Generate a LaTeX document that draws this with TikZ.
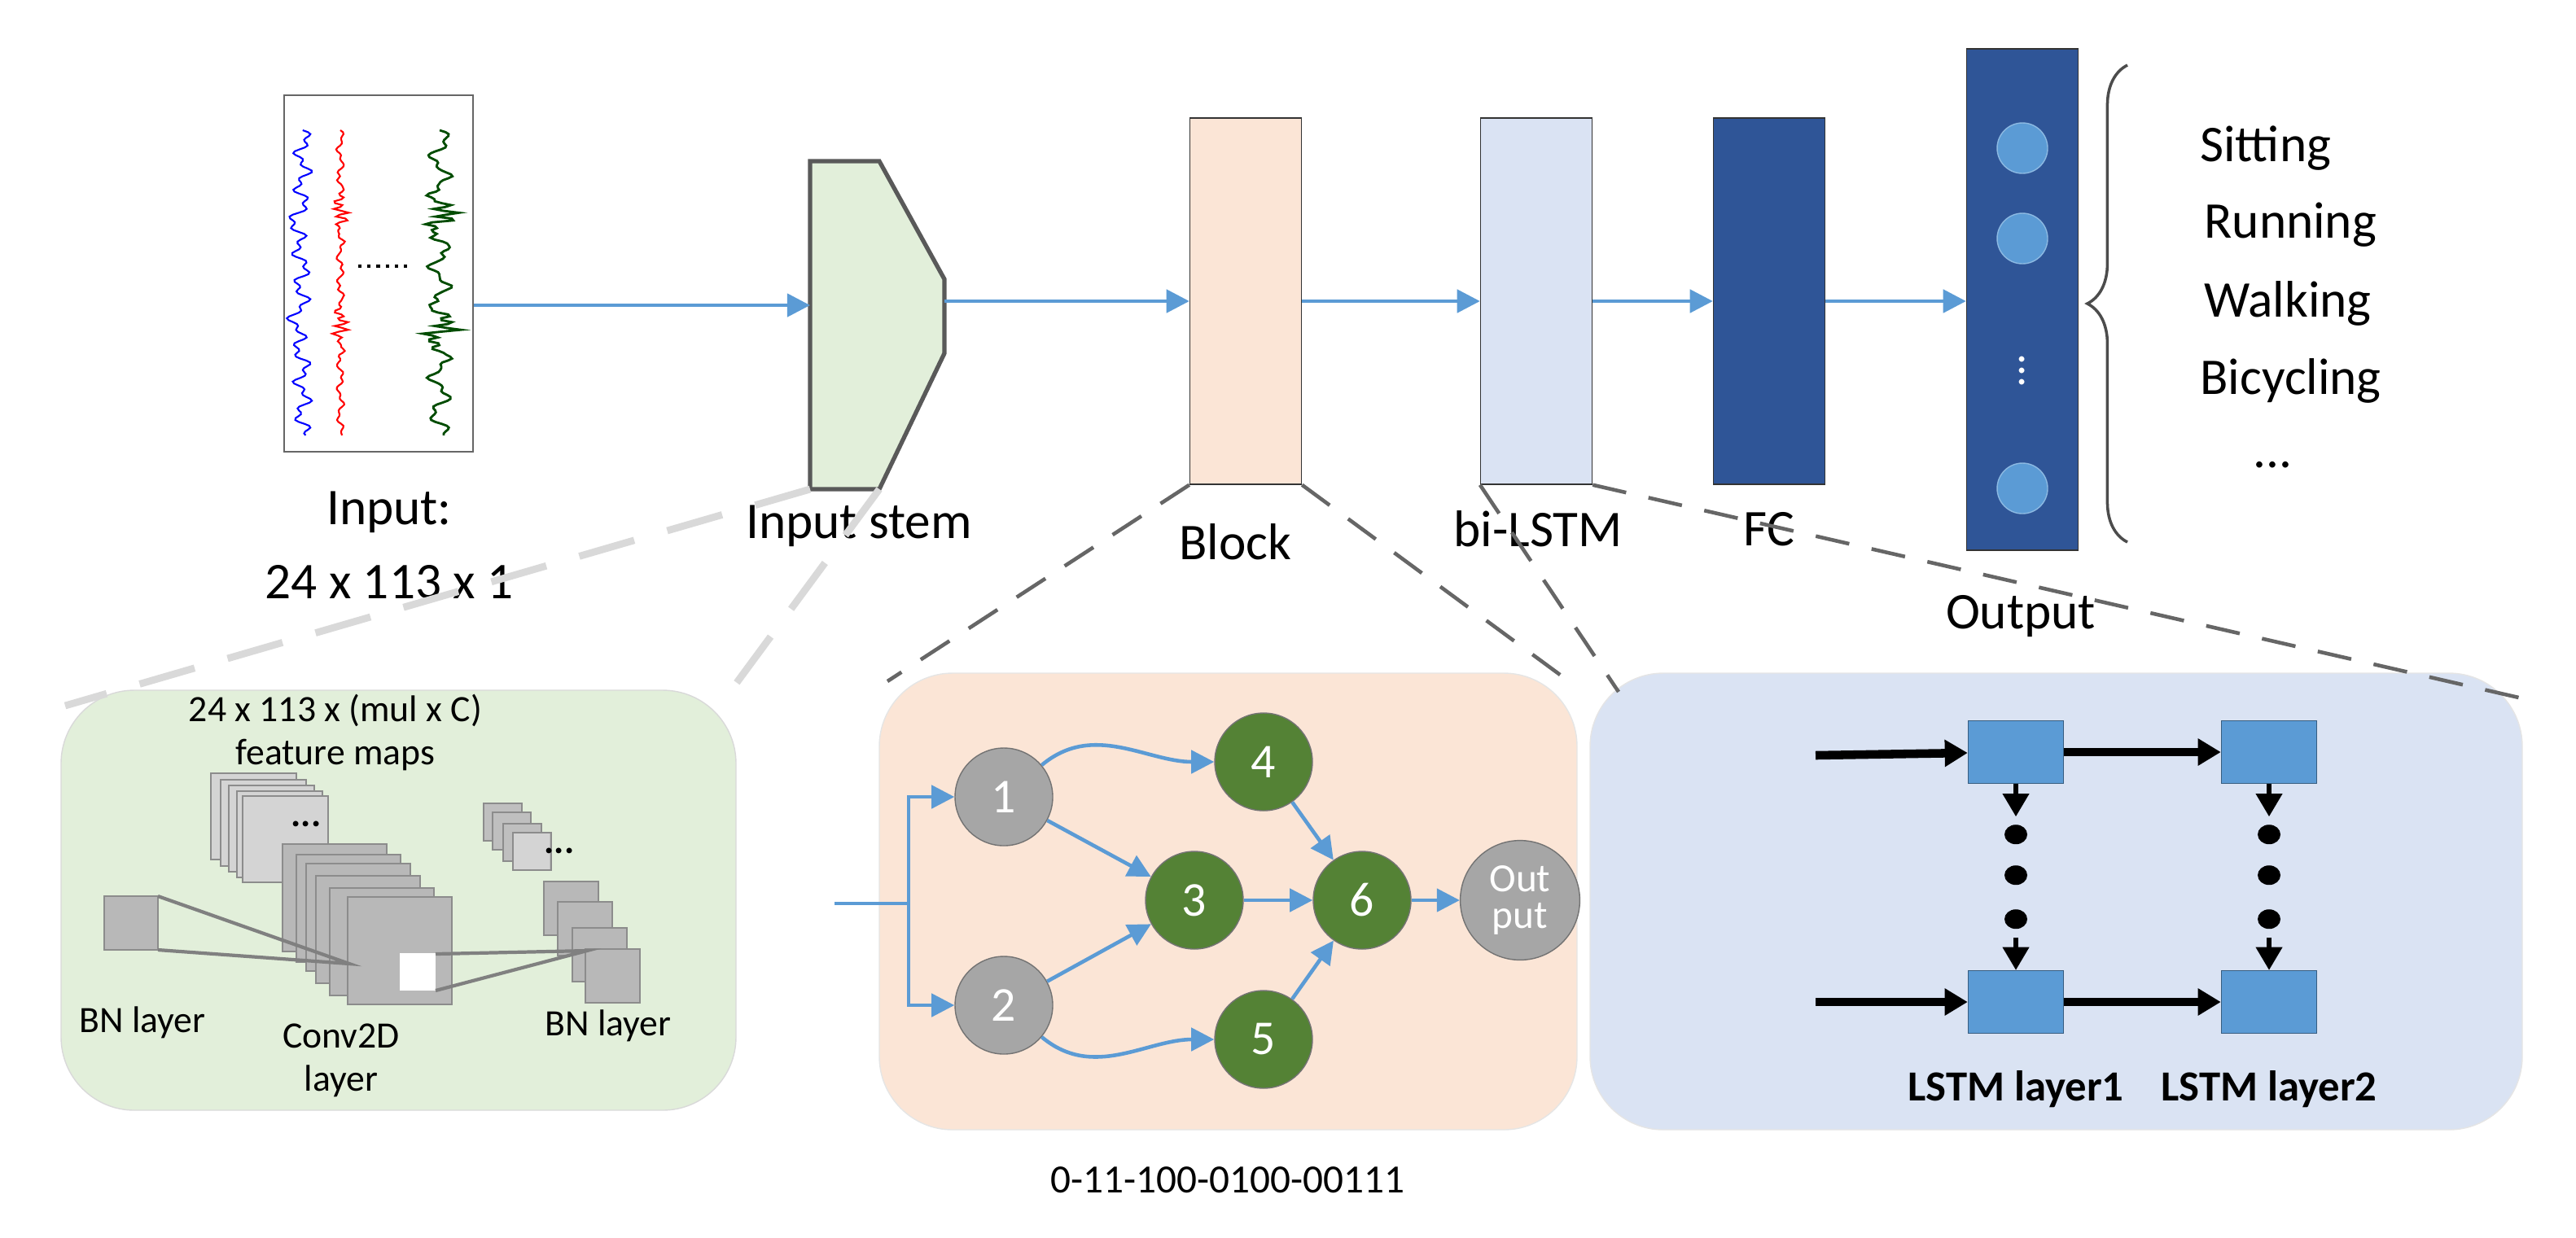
\documentclass[tikz,border=0pt]{standalone}
\usepackage{fontspec}
\setmainfont{Carlito}
\usetikzlibrary{arrows.meta,decorations.pathreplacing,calc}
\definecolor{stemgreen}{HTML}{E2EFDA}
\definecolor{blockpeach}{HTML}{FBE5D6}
\definecolor{lstmblue}{HTML}{DAE3F3}
\definecolor{fcblue}{HTML}{2F5597}
\definecolor{lineblue}{HTML}{5B9BD5}
\definecolor{nodegreen}{HTML}{548235}
\begin{document}
\begin{tikzpicture}
	[	layer/.style={rectangle,draw=black!80,minimum width=1.37cm,minimum height=4.5cm,inner sep=0},
	lbl/.style={font=\fontsize{18}{22}\selectfont,align=center},
	small/.style={font=\fontsize{13}{15}\selectfont,align=center},
	flow/.style={-{Triangle[length=8pt,width=8pt]},lineblue,line width=1.3pt},
	zoomline/.style={line width=2.5pt,black!15,dash pattern=on 20pt off 12pt},
	zoomdark/.style={line width=1.3pt,black!60,dash pattern=on 12pt off 8pt},
	fmap/.style={draw=black!45,fill=black!28},
	fmaplight/.style={draw=black!45,fill=black!17},
	gnode/.style={circle,draw=black!55,fill=black!35,minimum size=1.2cm,text=white,font=\fontsize{17}{19}\selectfont},
	cnode/.style={circle,draw=black!55,fill=nodegreen,minimum size=1.2cm,text=white,font=\fontsize{17}{19}\selectfont},
	cell/.style={rectangle,draw=lineblue!60!black,fill=lineblue,minimum width=1.17cm,minimum height=0.77cm},
	blk/.style={-{Triangle[length=8pt,width=9pt]},line width=3pt}
	]
	\useasboundingbox (0,0) rectangle (31.64,-15.2);
	% panels
	\draw[black!15,fill=stemgreen,rounded corners=0.9cm] (0.75,-8.48) rectangle (9.04,-13.64);
	\draw[black!10,fill=blockpeach,rounded corners=0.9cm] (10.8,-8.27) rectangle (19.37,-13.88);
	\draw[black!10,fill=lstmblue,rounded corners=0.9cm] (19.53,-8.27) rectangle (30.98,-13.88);
	% input signals
	\node[draw=black!60,minimum width=2.32cm,minimum height=4.38cm,inner sep=0] (inp) at (4.65,-3.36) {};
	\draw[blue,line width=0.6pt] plot[domain=0:3.75,samples=160,variable=\t] ({3.72+0.07*sin(\t*900)+0.05*sin(\t*2300)-0.1/(1+40*(\t-1.2)^2)-0.1/(1+40*(\t-2.4)^2)},-1.6-\t);
	\draw[red,line width=0.6pt] plot[domain=0:3.75,samples=160,variable=\t] ({4.18+0.03*sin(\t*1100)+0.02*sin(\t*2700)+0.1*sin(\t*4000)/(1+80*(\t-1.0)^2)+0.1*sin(\t*4000)/(1+80*(\t-2.4)^2)},-1.6-\t);
	\draw[black!70!green,line width=0.8pt] plot[domain=0:3.75,samples=160,variable=\t] ({5.4+0.1*sin(\t*800)+0.05*sin(\t*2100)+0.18*sin(\t*4000)/(1+80*(\t-1.05)^2)+0.18*sin(\t*4000)/(1+80*(\t-2.45)^2)},-1.6-\t);
	\draw[dotted,line width=1.2pt] (4.4,-3.27) -- (5.05,-3.27);
	\node[lbl] (inplbl) at (4.78,-6.7) {Input:\\[4pt]24 x 113 x 1};
	% input stem
	\draw[black!65,line width=1.5pt,fill=stemgreen] (9.95,-1.98) -- (10.8,-1.98) -- (11.6,-3.43) -- (11.6,-4.34) -- (10.8,-6.01) -- (9.95,-6.01) -- cycle;
	\coordinate (stem) at (9.95,-3.75);
	\coordinate (stemout) at (11.6,-3.7);
	\node[lbl] (stemlbl) at (10.55,-6.46) {Input stem};
	% layers
	\node[layer,fill=blockpeach] (block) at (15.3,-3.7) {};
	\node[layer,fill=lstmblue] (lstm) at (18.87,-3.7) {};
	\node[layer,fill=fcblue] (fc) at (21.73,-3.7) {};
	\node[layer,fill=fcblue,minimum height=6.16cm] (out) at (24.84,-3.68) {};
	\node[lbl] at (15.17,-6.66) {Block};
	\node[lbl] at (18.89,-6.5) {bi-LSTM};
	\node[lbl] at (21.73,-6.5) {FC};
	\node[lbl] at (24.82,-7.57) {Output};
	\foreach \y in {1.82,2.93,6.0}
		\node[circle,fill=lineblue,draw=lineblue!70!white,minimum size=0.62cm] at (24.84,-\y) {};
	\node[white,font=\fontsize{16}{18}\selectfont] at (24.84,-4.45) {$\vdots$};
	\draw[black!70,line width=1pt,decorate,decoration={brace,amplitude=14pt}] (26.13,-6.66) -- (26.13,-0.8);
	\node[lbl,anchor=west] at (26.9,-1.82) {Sitting};
	\node[lbl,anchor=west] at (26.95,-2.76) {Running};
	\node[lbl,anchor=west] at (26.95,-3.73) {Walking};
	\node[lbl,anchor=west] at (26.9,-4.68) {Bicycling};
	\node[lbl,anchor=west] at (27.55,-5.71) {...};
	\draw[flow] (inp.east |- stem) -- (stem);
	\draw[flow] (stemout) -- (block.west |- stemout);
	\draw[flow] (block.east |- stemout) -- (lstm.west |- stemout);
	\draw[flow] (lstm.east |- stemout) -- (fc.west |- stemout);
	\draw[flow] (fc.east |- stemout) -- (out.west |- stemout);
	% zoom lines
	\draw[zoomline] (9.95,-6.01) -- (0.8,-8.67);
	\draw[zoomline] (10.8,-6.01) -- (8.98,-8.48);
	\draw[zoomdark] (block.south west) -- (10.9,-8.37);
	\draw[zoomdark] (block.south east) -- (19.27,-8.37);
	\draw[zoomdark] (lstm.south west) -- (19.88,-8.5);
	\draw[zoomdark] (lstm.south east) -- (30.98,-8.58);
	% stem detail
	\node[small] at (4.12,-9.0) {24 x 113 x (mul x C)\\feature maps};
	\foreach \i/\dx/\dy in {0/0/0,1/0.12/0.08,2/0.22/0.15,3/0.32/0.22,4/0.39/0.28}
		\draw[fmaplight] (2.59+\dx,-9.5-\dy) rectangle (3.64+\dx,-10.56-\dy);
	\node[small] at (3.76,-10.12) {\textbf{...}};
	\foreach \i/\dx/\dy in {0/0/0,1/0.17/0.13,2/0.29/0.24,3/0.41/0.39,4/0.58/0.54,5/0.8/0.65}
		\draw[fmap] (3.47+\dx,-10.37-\dy) rectangle (4.75+\dx,-11.69-\dy);
	\fill[white] (4.91,-11.71) rectangle (5.35,-12.17);
	\foreach \i/\dx/\dy in {0/0/0,1/0.11/0.11,2/0.24/0.25,3/0.36/0.36}
		\draw[fmap,fill=black!25] (5.94+\dx,-9.87-\dy) rectangle (6.41+\dx,-10.33-\dy);
	\fill[black!17] (6.31,-10.24) rectangle (6.75,-10.68);
	\node[small] at (6.87,-10.45) {\textbf{...}};
	\foreach \i/\dx/\dy in {0/0/0,1/0.17/0.25,2/0.35/0.57,3/0.51/0.83}
		\draw[fmap] (6.68+\dx,-10.83-\dy) rectangle (7.35+\dx,-11.49-\dy);
	\draw[fmap] (1.28,-11.01) rectangle (1.94,-11.67);
	\draw[black!50,line width=1.2pt] (1.94,-11.01) -- (4.29,-11.84) -- (1.94,-11.67);
	\draw[black!50,line width=1.2pt] (5.35,-11.72) -- (7.21,-11.68) -- (5.35,-12.17);
	\node[small] at (1.75,-12.56) {BN layer};
	\node[small] at (4.19,-13.03) {Conv2D\\layer};
	\node[small] at (7.47,-12.6) {BN layer};
	% block detail
	\node[gnode] (n1) at (12.33,-9.79) {1};
	\node[gnode] (n2) at (12.33,-12.35) {2};
	\node[cnode] (n4) at (15.52,-9.36) {4};
	\node[cnode] (n3) at (14.67,-11.06) {3};
	\node[cnode] (n6) at (16.73,-11.06) {6};
	\node[cnode] (n5) at (15.52,-12.77) {5};
	\node[gnode,font=\fontsize{14}{15}\selectfont,align=center] (nout) at (18.67,-11.06) {Out\\[-2pt]put};
	\coordinate (gin) at (10.25,-11.1);
	\coordinate (gsplit) at (11.16,-11.1);
	\draw[lineblue,line width=1.3pt] (gin) -- (gsplit);
	\draw[flow] (gsplit) |- (n1);
	\draw[flow] (gsplit) |- (n2);
	\draw[flow] (n1) to[out=40,in=180] (n4);
	\draw[flow] (n1) -- (n3);
	\draw[flow] (n2) -- (n3);
	\draw[flow] (n2) to[out=-40,in=180] (n5);
	\draw[flow] (n4) -- (n6);
	\draw[flow] (n3) -- (n6);
	\draw[flow] (n5) -- (n6);
	\draw[flow] (n6) -- (nout);
	\node[font=\fontsize{14}{16}\selectfont] at (15.08,-14.5) {0-11-100-0100-00111};
	% lstm detail
	\node[cell] (c11) at (24.76,-9.24) {};
	\node[cell] (c12) at (27.87,-9.24) {};
	\node[cell] (c21) at (24.76,-12.31) {};
	\node[cell] (c22) at (27.87,-12.31) {};
	\coordinate (a1) at (22.3,-9.28);
	\coordinate (a2) at (22.3,-12.31);
	\draw[blk] (a1) -- (c11);
	\draw[blk] (c11) -- (c12);
	\draw[blk] (a2) -- (c21);
	\draw[blk] (c21) -- (c22);
	\foreach \c/\d in {c11/c21,c12/c22}{
		\draw[blk,line width=1.5pt] (\c.south) -- ++(0,-0.4);
		\foreach \y in {0.62,1.12,1.66}
			\fill ($(\c.south)+(0,-\y)$) ellipse (0.14 and 0.12);
		\draw[blk,line width=1.5pt] ($(\d.north)+(0,0.4)$) -- (\d.north);
	}
	\node[font=\bfseries\fontsize{15}{17}\selectfont] at (24.76,-13.38) {LSTM layer1};
	\node[font=\bfseries\fontsize{15}{17}\selectfont] at (27.87,-13.38) {LSTM layer2};
\end{tikzpicture}
\end{document}
